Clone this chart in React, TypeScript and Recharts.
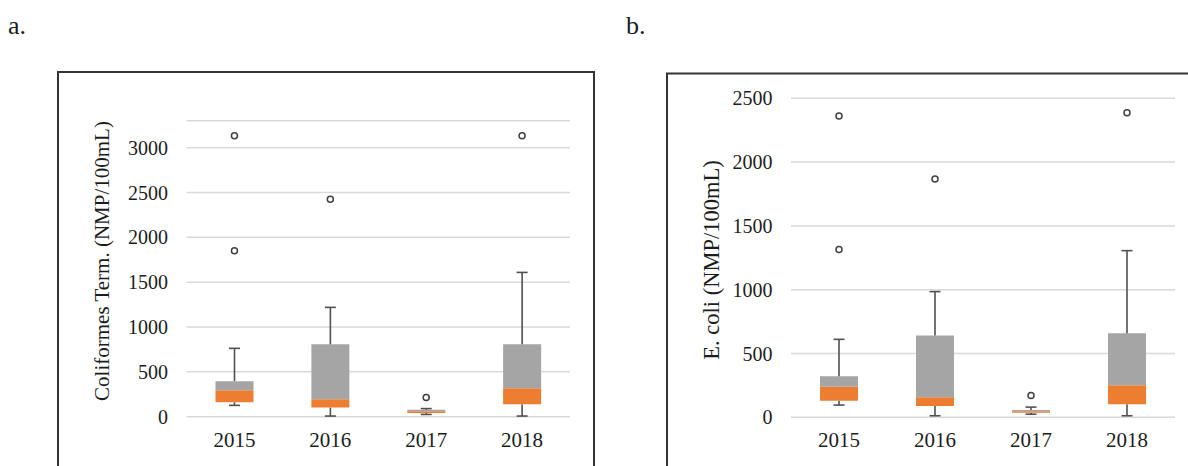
import React from 'react';
import { ComposedChart, Bar, Scatter, XAxis, YAxis, CartesianGrid } from 'recharts';

const years = ['2015', '2016', '2017', '2018'];

// Panel a: Coliformes Term. (NMP/100mL)
const colLow = [126, 7, 25, 7];
const colQ1 = [160, 101, 42, 138];
const colMedian = [295, 195, 60, 316];
const colQ3 = [396, 807, 78, 807];
const colHigh = [762, 1219, 90, 1609];
const colOutliers = [[1851, 3133], [2424], [215], [3133]];
const colTicks = [0, 500, 1000, 1500, 2000, 2500, 3000];

// Panel b: E. coli (NMP/100mL)
const ecoLow = [96, 12, 24, 12];
const ecoQ1 = [130, 89, 36, 102];
const ecoMedian = [240, 157, 47, 252];
const ecoQ3 = [322, 641, 57, 658];
const ecoHigh = [611, 985, 80, 1306];
const ecoOutliers = [[1316, 2361], [1868], [170], [2387]];
const ecoTicks = [0, 500, 1000, 1500, 2000, 2500];

const ORANGE = '#ED7D31';
const GRAY = '#A5A5A5';
const WHISKER = '#505050';
const TEXT = '#1c1c1c';
const FONT = '"Liberation Serif", "Times New Roman", serif';

function buildRows(low: number[], q1: number[], med: number[], q3: number[], high: number[], outs: number[][]) {
  return years.map((year, i) => ({
    year,
    base: low[i],
    wLow: q1[i] - low[i],
    lower: med[i] - q1[i],
    upper: q3[i] - med[i],
    wHigh: high[i] - q3[i],
    out1: outs[i][0] ?? null,
    out2: outs[i][1] ?? null,
  }));
}

const colData = buildRows(colLow, colQ1, colMedian, colQ3, colHigh, colOutliers);
const ecoData = buildRows(ecoLow, ecoQ1, ecoMedian, ecoQ3, ecoHigh, ecoOutliers);

const Empty = () => null;

const WhiskerLow = (p: any) => {
  const { x, y, width, height } = p;
  if (![x, y, width, height].every(Number.isFinite)) return null;
  const cx = x + width / 2;
  const yb = y + height;
  return (
    <g>
      <line x1={cx} x2={cx} y1={y} y2={yb} stroke={WHISKER} strokeWidth={1.6} />
      <line x1={cx - 5.5} x2={cx + 5.5} y1={yb} y2={yb} stroke={WHISKER} strokeWidth={1.6} />
    </g>
  );
};

const WhiskerHigh = (p: any) => {
  const { x, y, width, height } = p;
  if (![x, y, width, height].every(Number.isFinite)) return null;
  const cx = x + width / 2;
  return (
    <g>
      <line x1={cx} x2={cx} y1={y} y2={y + height} stroke={WHISKER} strokeWidth={1.6} />
      <line x1={cx - 5.5} x2={cx + 5.5} y1={y} y2={y} stroke={WHISKER} strokeWidth={1.6} />
    </g>
  );
};

const makeOutlier = (key: string) => (p: any) => {
  const { cx, cy, payload } = p;
  if (!payload || payload[key] == null || !Number.isFinite(cx) || !Number.isFinite(cy)) return null;
  return <circle cx={cx} cy={cy} r={3} fill="#fff" stroke="#404040" strokeWidth={1.5} />;
};
const Out1 = makeOutlier('out1');
const Out2 = makeOutlier('out2');

const AxisTitle = (props: any) => {
  const { tx, ty, text, fontSize } = props;
  return (
    <text
      x={tx}
      y={ty}
      transform={`rotate(-90 ${tx} ${ty})`}
      textAnchor="middle"
      dominantBaseline="central"
      fontFamily={FONT}
      fontSize={fontSize}
      fill={TEXT}
    >
      {text}
    </text>
  );
};

type BoxProps = {
  data: any[];
  ticks: number[];
  domain: [number, number];
  width: number;
  top: number;
  right: number;
  yAxisWidth: number;
  xAxisHeight: number;
  title: string;
  titleX: number;
  titleY: number;
  titleSize: number;
};

function BoxChart(props: BoxProps) {
  const { data, ticks, domain, width, top, right, yAxisWidth, xAxisHeight, title, titleX, titleY, titleSize } = props;
  return (
    <ComposedChart
      width={width}
      height={466}
      data={data}
      margin={{ top, right, bottom: 0, left: 0 }}
      barSize={38}
    >
      <CartesianGrid vertical={false} stroke="#D9D9D9" strokeWidth={1.5} />
      <XAxis
        dataKey="year"
        type="category"
        height={xAxisHeight}
        axisLine={false}
        tickLine={false}
        tickSize={0}
        tickMargin={15}
        tick={{ fontSize: 21, fill: TEXT, fontFamily: FONT }}
      />
      <YAxis
        type="number"
        domain={domain}
        ticks={ticks}
        width={yAxisWidth}
        axisLine={false}
        tickLine={false}
        tickSize={0}
        tickMargin={18.5}
        interval={0}
        tick={{ fontSize: 20, fill: TEXT, fontFamily: FONT }}
        label={<AxisTitle tx={titleX} ty={titleY} text={title} fontSize={titleSize} />}
      />
      <Bar dataKey="base" stackId="box" shape={Empty} isAnimationActive={false} />
      <Bar dataKey="wLow" stackId="box" shape={WhiskerLow} isAnimationActive={false} />
      <Bar dataKey="lower" stackId="box" fill={ORANGE} isAnimationActive={false} />
      <Bar dataKey="upper" stackId="box" fill={GRAY} isAnimationActive={false} />
      <Bar dataKey="wHigh" stackId="box" shape={WhiskerHigh} isAnimationActive={false} />
      <Scatter dataKey="out1" shape={Out1} isAnimationActive={false} />
      <Scatter dataKey="out2" shape={Out2} isAnimationActive={false} />
    </ComposedChart>
  );
}

export default function App() {
  return (
    <div
      style={{
        position: 'absolute',
        left: 0,
        top: 0,
        width: 1188,
        height: 466,
        background: '#fff',
        overflow: 'hidden',
      }}
    >
      <svg width={1188} height={466} style={{ position: 'absolute', left: 0, top: 0 }}>
        <text x={8} y={33.5} fontFamily={FONT} fontSize={26} fill={TEXT}>a.</text>
        <text x={626} y={33.5} fontFamily={FONT} fontSize={26} fill={TEXT}>b.</text>
        <rect x={58} y={72} width={536} height={500} fill="none" stroke="#333" strokeWidth={2} />
        <rect x={667} y={73.5} width={600} height={500} fill="none" stroke="#333" strokeWidth={2} />
      </svg>
      <div style={{ position: 'absolute', left: 0, top: 0 }}>
        <BoxChart
          data={colData}
          ticks={colTicks}
          domain={[0, 3300]}
          width={600}
          top={120.77}
          right={30}
          yAxisWidth={186.5}
          xAxisHeight={49.33}
          title="Coliformes Term. (NMP/100mL)"
          titleX={102}
          titleY={261}
          titleSize={21}
        />
      </div>
      <div style={{ position: 'absolute', left: 600, top: 0 }}>
        <BoxChart
          data={ecoData}
          ticks={ecoTicks}
          domain={[0, 2500]}
          width={588}
          top={98.3}
          right={13}
          yAxisWidth={191}
          xAxisHeight={48.7}
          title="E. coli (NMP/100mL)"
          titleX={111.5}
          titleY={260}
          titleSize={22.5}
        />
      </div>
    </div>
  );
}
